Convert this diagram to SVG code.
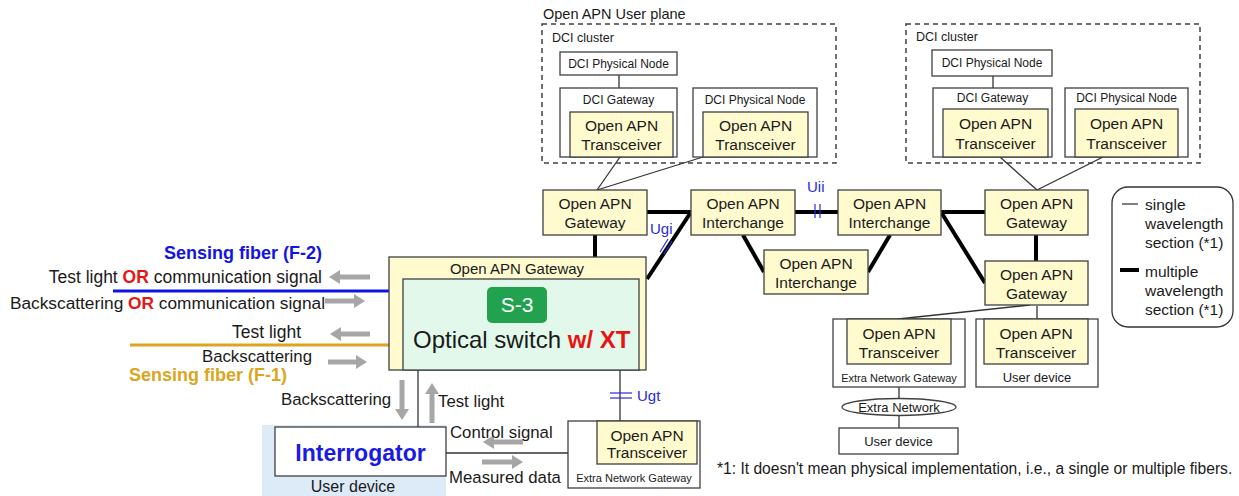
<svg xmlns="http://www.w3.org/2000/svg" width="1239" height="496" viewBox="0 0 1239 496">
<style>
text{font-family:"Liberation Sans",Arial,sans-serif;fill:#1a1a1a}
.box{fill:#fff;stroke:#404040;stroke-width:1.3}
.yel{fill:#fffbcf;stroke:#404040;stroke-width:1.3}
.dash{fill:none;stroke:#404040;stroke-width:1.5;stroke-dasharray:5,4}
.thin{stroke:#333;stroke-width:1.3;fill:none}
.thick{stroke:#000;stroke-width:4;fill:none}
.ga{stroke:#a6a6a6;stroke-width:5;fill:none;marker-end:url(#ah)}
.tick{stroke:#2b2be0;stroke-width:1.2}
.n{font-size:15.5px;text-anchor:middle}
.s{font-size:12px;text-anchor:middle}
.lab{font-size:16.8px}
.blu{fill:#2b2be0;font-size:15px}
.leg{font-size:15.5px}
</style>
<defs>
<marker id="ah" markerUnits="userSpaceOnUse" markerWidth="12" markerHeight="14" refX="2" refY="7" orient="auto">
<path d="M0,0 L11,7 L0,14 Z" fill="#a6a6a6"/>
</marker>
</defs>

<!-- background for interrogator user device -->
<rect x="262" y="425" width="184" height="71" fill="#dcebf7"/>

<g id="connectors">
<!-- thin lines -->
<line class="thin" x1="619" y1="75" x2="619" y2="88"/>
<line class="thin" x1="620" y1="157" x2="597" y2="190"/>
<line class="thin" x1="703" y1="157" x2="597" y2="190"/>
<line class="thin" x1="993" y1="76" x2="993" y2="88"/>
<line class="thin" x1="1000" y1="157" x2="1037" y2="190"/>
<line class="thin" x1="1103" y1="157" x2="1037" y2="190"/>
<line class="thin" x1="1030" y1="305" x2="898" y2="319"/>
<line class="thin" x1="1037" y1="306" x2="1037" y2="319"/>
<line class="thin" x1="899" y1="387" x2="899" y2="399"/>
<line class="thin" x1="899" y1="415" x2="899" y2="428"/>
<line class="thin" x1="418" y1="370" x2="418" y2="427"/>
<line class="thin" x1="620" y1="370" x2="620" y2="421"/>
<line class="thin" x1="446" y1="453" x2="568" y2="453"/>
<!-- thick lines -->
<line class="thick" x1="647" y1="212" x2="691" y2="212"/>
<line class="thick" x1="691" y1="212" x2="647" y2="279"/>
<line class="thick" x1="595" y1="235" x2="595" y2="257"/>
<line class="thick" x1="795" y1="212" x2="838" y2="212"/>
<line class="thick" x1="743" y1="235" x2="764" y2="272"/>
<line class="thick" x1="868" y1="272" x2="890" y2="235"/>
<line class="thick" x1="941" y1="212" x2="985" y2="212"/>
<line class="thick" x1="941" y1="212" x2="985" y2="283"/>
<line class="thick" x1="1036" y1="235" x2="1036" y2="261"/>
<!-- interface ticks -->
<line class="tick" x1="815" y1="204" x2="815" y2="218"/>
<line class="tick" x1="820" y1="204" x2="820" y2="218"/>
<line class="tick" x1="660" y1="252" x2="668" y2="239"/>
<line class="tick" x1="664" y1="254" x2="672" y2="241"/>
<line class="tick" x1="610" y1="393" x2="632" y2="393"/>
<line class="tick" x1="610" y1="398" x2="632" y2="398"/>
<!-- fibers -->
<line x1="113" y1="291" x2="403" y2="291" stroke="#0a14e6" stroke-width="3"/>
<line x1="130" y1="345" x2="403" y2="345" stroke="#dba520" stroke-width="3"/>
<!-- gray signal arrows -->
<line class="ga" x1="370" y1="277" x2="338" y2="277"/>
<line class="ga" x1="325" y1="301" x2="356" y2="301"/>
<line class="ga" x1="370" y1="334" x2="339" y2="334"/>
<line class="ga" x1="328" y1="362" x2="358" y2="362"/>
<line class="ga" x1="402" y1="380" x2="402" y2="411"/>
<line class="ga" x1="432" y1="423" x2="432" y2="392"/>
<line class="ga" x1="523" y1="442" x2="492" y2="442"/>
<line class="ga" x1="482" y1="462" x2="514" y2="462"/>
</g>

<g id="user-plane">
<text x="543" y="19" style="font-size:14.5px">Open APN User plane</text>
</g>

<g id="dci-cluster-left">
<rect class="dash" x="542" y="24" width="294" height="139"/>
<text x="552" y="42" style="font-size:12.5px">DCI cluster</text>
</g>
<g id="dci-phys-left-top">
<rect class="box" x="560" y="52" width="117" height="23"/>
<text class="s" x="618.5" y="68">DCI Physical Node</text>
</g>
<g id="dci-gw-left">
<rect class="box" x="560" y="88" width="117" height="69"/>
<text class="s" x="618.5" y="104">DCI Gateway</text>
<rect class="yel" x="570" y="112" width="103" height="45"/>
<text class="n" x="621.5" y="130.5">Open APN</text>
<text class="n" x="621.5" y="149.5">Transceiver</text>
</g>
<g id="dci-phys-left">
<rect class="box" x="693" y="88" width="124" height="69"/>
<text class="s" x="755" y="104">DCI Physical Node</text>
<rect class="yel" x="703" y="112" width="105" height="45"/>
<text class="n" x="755.5" y="130.5">Open APN</text>
<text class="n" x="755.5" y="149.5">Transceiver</text>
</g>

<g id="dci-cluster-right">
<rect class="dash" x="906" y="24" width="294" height="139"/>
<text x="916" y="41" style="font-size:12.5px">DCI cluster</text>
</g>
<g id="dci-phys-right-top">
<rect class="box" x="932" y="50" width="120" height="26"/>
<text class="s" x="992" y="67">DCI Physical Node</text>
</g>
<g id="dci-gw-right">
<rect class="box" x="933" y="88" width="119" height="69"/>
<text class="s" x="992.5" y="102">DCI Gateway</text>
<rect class="yel" x="943" y="109" width="105" height="48"/>
<text class="n" x="995.5" y="128.5">Open APN</text>
<text class="n" x="995.5" y="148.5">Transceiver</text>
</g>
<g id="dci-phys-right">
<rect class="box" x="1065" y="88" width="123" height="69"/>
<text class="s" x="1126.5" y="102">DCI Physical Node</text>
<rect class="yel" x="1075" y="109" width="103" height="48"/>
<text class="n" x="1126.5" y="128.5">Open APN</text>
<text class="n" x="1126.5" y="148.5">Transceiver</text>
</g>

<g id="gateway-1">
<rect class="yel" x="543" y="190" width="104" height="45"/>
<text class="n" x="595" y="208.5">Open APN</text>
<text class="n" x="595" y="227.5">Gateway</text>
</g>
<g id="interchange-1">
<rect class="yel" x="691" y="190" width="104" height="45"/>
<text class="n" x="743" y="208.5">Open APN</text>
<text class="n" x="743" y="227.5">Interchange</text>
</g>
<g id="interchange-2">
<rect class="yel" x="838" y="190" width="103" height="45"/>
<text class="n" x="889.5" y="208.5">Open APN</text>
<text class="n" x="889.5" y="227.5">Interchange</text>
</g>
<g id="interchange-3">
<rect class="yel" x="764" y="250" width="104" height="44"/>
<text class="n" x="816" y="268.5">Open APN</text>
<text class="n" x="816" y="287.5">Interchange</text>
</g>
<g id="gateway-2">
<rect class="yel" x="985" y="190" width="103" height="45"/>
<text class="n" x="1036.5" y="208.5">Open APN</text>
<text class="n" x="1036.5" y="227.5">Gateway</text>
</g>
<g id="gateway-3">
<rect class="yel" x="985" y="261" width="103" height="44"/>
<text class="n" x="1036.5" y="279.5">Open APN</text>
<text class="n" x="1036.5" y="298.5">Gateway</text>
</g>

<g id="labels-interfaces">
<text class="blu" x="807" y="192">Uii</text>
<text class="blu" x="650" y="234">Ugi</text>
<text class="blu" x="637" y="401">Ugt</text>
</g>

<g id="gateway-switch">
<rect class="yel" x="389" y="257" width="257" height="113"/>
<text class="n" x="517" y="274" style="font-size:15px">Open APN Gateway</text>
<rect x="403" y="279" width="236" height="91" fill="#e2f8ea" stroke="#404040" stroke-width="1.3"/>
<rect x="487" y="287" width="60" height="36" rx="5" fill="#22a24f"/>
<text x="517" y="312" style="font-size:21px;text-anchor:middle;fill:#fff">S-3</text>
<text x="413" y="348" style="font-size:24px">Optical switch <tspan style="fill:#e81414;font-weight:bold">w/ XT</tspan></text>
</g>

<g id="fiber-labels">
<text x="322" y="259" style="font-size:18px;font-weight:bold;fill:#1414e0;text-anchor:end">Sensing fiber (F-2)</text>
<text x="322" y="283" style="font-size:17.5px" text-anchor="end">Test light <tspan style="fill:#e81414;font-weight:bold">OR</tspan> communication signal</text>
<text x="325" y="309" style="font-size:17.3px" text-anchor="end">Backscattering <tspan style="fill:#e81414;font-weight:bold">OR</tspan> communication signal</text>
<text x="301" y="338" style="font-size:17.5px" text-anchor="end">Test light</text>
<text class="lab" x="312" y="362" text-anchor="end">Backscattering</text>
<text x="287" y="381" style="font-size:18px;font-weight:bold;fill:#dba520;text-anchor:end">Sensing fiber (F-1)</text>
<text class="lab" x="281" y="405">Backscattering</text>
<text class="lab" x="438" y="407">Test light</text>
<text class="lab" x="450" y="438">Control signal</text>
<text class="lab" x="449" y="483">Measured data</text>
</g>

<g id="interrogator">
<rect class="box" x="275" y="427" width="171" height="49"/>
<text x="360.5" y="461" style="font-size:23px;font-weight:bold;fill:#1a1ae6;text-anchor:middle">Interrogator</text>
<text x="353" y="492" style="font-size:16px;text-anchor:middle">User device</text>
</g>

<g id="extra-gw-bottom">
<rect class="box" x="568" y="421" width="132" height="67"/>
<rect class="yel" x="597" y="421" width="100" height="43"/>
<text class="n" x="647" y="440.5">Open APN</text>
<text class="n" x="647" y="457.5">Transceiver</text>
<text x="634" y="482" style="font-size:11px;text-anchor:middle">Extra Network Gateway</text>
</g>

<g id="extra-gw-right">
<rect class="box" x="833" y="319" width="132" height="68"/>
<rect class="yel" x="847" y="319" width="104" height="45"/>
<text class="n" x="899" y="338.5">Open APN</text>
<text class="n" x="899" y="357.5">Transceiver</text>
<text x="899" y="382" style="font-size:11px;text-anchor:middle">Extra Network Gateway</text>
</g>
<g id="user-device-right">
<rect class="box" x="976" y="319" width="122" height="68"/>
<rect class="yel" x="984" y="319" width="104" height="45"/>
<text class="n" x="1036" y="338.5">Open APN</text>
<text class="n" x="1036" y="357.5">Transceiver</text>
<text x="1037" y="382" style="font-size:13px;text-anchor:middle">User device</text>
</g>
<g id="extra-network">
<ellipse cx="899" cy="407" rx="57" ry="8.5" fill="#fff" stroke="#404040" stroke-width="1.3"/>
<text x="899" y="412" style="font-size:13px;text-anchor:middle">Extra Network</text>
</g>
<g id="user-device-bottom">
<rect class="box" x="839" y="428" width="119" height="26"/>
<text x="898.5" y="446" style="font-size:13px;text-anchor:middle">User device</text>
</g>

<g id="legend">
<rect x="1112" y="187" width="121" height="140" rx="16" fill="#fff" stroke="#333" stroke-width="1.3"/>
<line x1="1122" y1="204" x2="1138" y2="204" stroke="#555" stroke-width="1.5"/>
<line x1="1120" y1="270" x2="1139" y2="270" stroke="#000" stroke-width="4"/>
<text class="leg" x="1145" y="210">single</text>
<text class="leg" x="1145" y="229">wavelength</text>
<text class="leg" x="1145" y="248">section (*1)</text>
<text class="leg" x="1145" y="277">multiple</text>
<text class="leg" x="1145" y="296">wavelength</text>
<text class="leg" x="1145" y="315">section (*1)</text>
</g>

<text x="717" y="474" style="font-size:15.6px">*1: It doesn't mean physical implementation, i.e., a single or multiple fibers.</text>
</svg>
